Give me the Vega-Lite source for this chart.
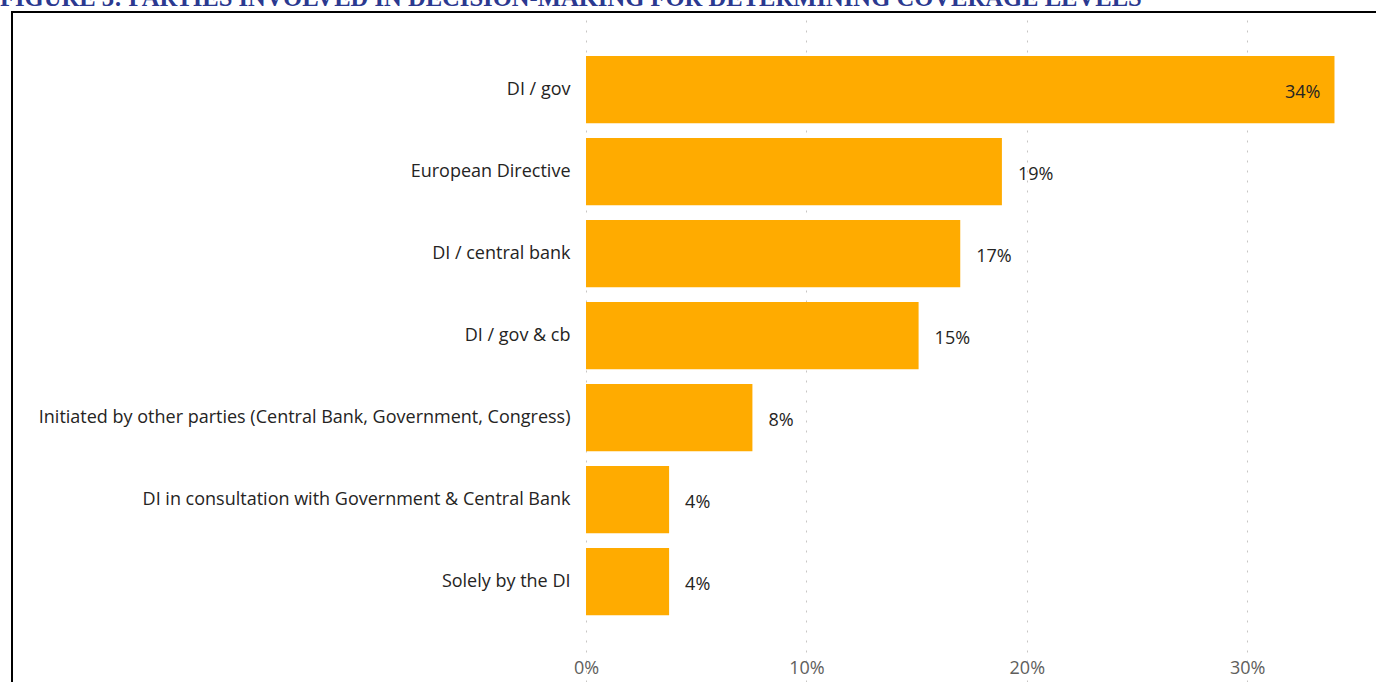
{
  "$schema": "https://vega.github.io/schema/vega-lite/v6.json",
  "autosize": "none",
  "padding": {"left": 12, "top": 12, "right": 0, "bottom": 0},
  "width": 1376,
  "height": 680,
  "title": {
    "text": "FIGURE 3: PARTIES INVOLVED IN DECISION-MAKING FOR DETERMINING COVERAGE LEVELS",
    "anchor": "start",
    "frame": "group",
    "dx": -12,
    "offset": -19,
    "baseline": "alphabetic",
    "font": "Liberation Serif",
    "fontSize": 24.6,
    "fontWeight": "bold",
    "color": "#2B3990"
  },
  "config": {"view": {"stroke": "#000000", "strokeWidth": 2}},
  "data": {
    "values": [
      {"party": "DI / gov", "share": 0.3396},
      {"party": "European Directive", "share": 0.1887},
      {"party": "DI / central bank", "share": 0.1698},
      {"party": "DI / gov & cb", "share": 0.1509},
      {"party": "Initiated by other parties (Central Bank, Government, Congress)", "share": 0.0755},
      {"party": "DI in consultation with Government & Central Bank", "share": 0.0377},
      {"party": "Solely by the DI", "share": 0.0377}
    ]
  },
  "encoding": {
    "y": {
      "field": "party",
      "type": "nominal",
      "sort": null,
      "scale": {"paddingInner": 0.18, "paddingOuter": 0.7363, "align": 0.3644},
      "axis": {
        "title": null,
        "orient": "left",
        "offset": -558,
        "domain": false,
        "ticks": false,
        "labelPadding": 0,
        "labelFont": "Open Sans",
        "labelFontSize": 18,
        "labelColor": "#252423",
        "labelLimit": 1000
      }
    }
  },
  "layer": [
    {
      "mark": {"type": "bar", "color": "#FFAB00"},
      "encoding": {
        "x": {
          "field": "share",
          "type": "quantitative",
          "scale": {"domain": [-0.26044, 0.36388], "nice": false, "zero": false},
          "axis": {
            "title": null,
            "values": [0, 0.1, 0.2, 0.3],
            "format": ".0%",
            "domain": false,
            "ticks": false,
            "grid": true,
            "gridDash": [2, 8],
            "gridColor": "#C8C6C4",
            "gridWidth": 1,
            "offset": -33,
            "labelPadding": 0,
            "labelFont": "Open Sans",
            "labelFontSize": 18,
            "labelColor": "#605E5C"
          }
        },
        "x2": {"datum": 0}
      }
    },
    {
      "transform": [{"filter": "datum.share > 0.3"}],
      "mark": {"type": "text", "align": "right", "baseline": "middle", "dx": -14, "dy": 3, "font": "Open Sans", "fontSize": 18, "color": "#252423"},
      "encoding": {
        "x": {"field": "share", "type": "quantitative"},
        "text": {"field": "share", "type": "quantitative", "format": ".0%"}
      }
    },
    {
      "transform": [{"filter": "datum.share <= 0.3"}],
      "mark": {"type": "text", "align": "left", "baseline": "middle", "dx": 16, "dy": 3, "font": "Open Sans", "fontSize": 18, "color": "#252423"},
      "encoding": {
        "x": {"field": "share", "type": "quantitative"},
        "text": {"field": "share", "type": "quantitative", "format": ".0%"}
      }
    }
  ]
}
